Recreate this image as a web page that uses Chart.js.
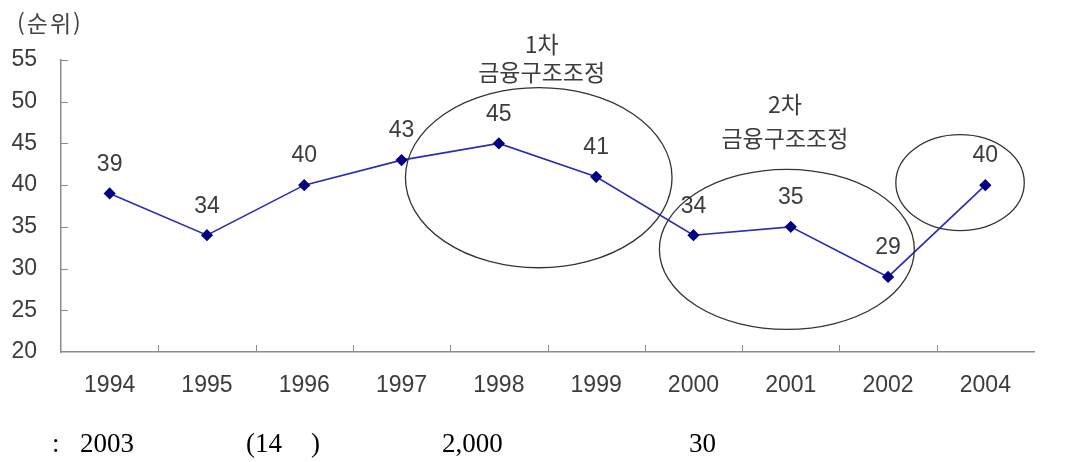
<!DOCTYPE html>
<html lang="ko">
<head>
  <meta charset="UTF-8">
  <title>순위 추이</title>
  <script src="https://cdn.jsdelivr.net/npm/chart.js"></script>
  <style>
    body {
      margin: 0;
      background: #fff;
      width: 1088px;
      height: 462px;
      position: relative;
      overflow: hidden;
    }
    #wrap {
      position: absolute;
      left: 0;
      top: 0;
      width: 1088px;
      height: 462px;
    }
    .unit {
      position: absolute;
      left: 17px;
      top: 5px;
      font-family: "Noto Sans CJK KR", sans-serif;
      font-size: 23px;
      letter-spacing: 2px;
      color: #444;
    }
    .note span {
      position: absolute;
      top: 428px;
      font-family: "Liberation Serif", "Times New Roman", serif;
      font-size: 27px;
      color: #000;
      white-space: nowrap;
    }
  </style>
</head>
<body>

<div id="wrap"><canvas id="rankChart" width="1088" height="462"></canvas></div>
<div class="unit">(순위)</div>
<div class="note">
  <span style="left:52px">:</span>
  <span style="left:80px">2003</span>
  <span style="left:246px">(14</span>
  <span style="left:311px">)</span>
  <span style="left:442px">2,000</span>
  <span style="left:689px">30</span>
</div>

<script>
const years = ["1994", "1995", "1996", "1997", "1998", "1999", "2000", "2001", "2002", "2004"];
const ranks = [39, 34, 40, 43, 45, 41, 34, 35, 29, 40];
const yTicks = [20, 25, 30, 35, 40, 45, 50, 55];

// circled periods: centre (category index, rank), radii (categories, rank units)
const circles = [
  { cx: 4.41, cy: 40.9, rx: 1.37, ry: 10.8 },
  { cx: 6.96, cy: 32.3, rx: 1.31, ry: 9.6 },
  { cx: 8.74, cy: 40.3, rx: 0.66, ry: 5.75 }
];
const notes = [
  { x: 4.44, y: 56.9, text: "1차" },
  { x: 4.44, y: 53.5, text: "금융구조조정" },
  { x: 6.94, y: 49.7, text: "2차" },
  { x: 6.94, y: 45.6, text: "금융구조조정" }
];

const axisColor = "#8c8c8c";
const textColor = "#3c3c3c";

const extras = {
  id: "extras",
  afterDatasetsDraw(chart) {
    const ctx = chart.ctx;
    const xs = chart.scales.x, ys = chart.scales.y;
    const area = chart.chartArea;
    ctx.save();

    // inner tick marks
    ctx.strokeStyle = axisColor;
    ctx.lineWidth = 1;
    ctx.beginPath();
    yTicks.forEach(v => {
      if (v === 20) return;
      const py = Math.round(ys.getPixelForValue(v)) + 0.5;
      ctx.moveTo(area.left, py);
      ctx.lineTo(area.left + 7, py);
    });
    for (let i = 0; i < years.length - 1; i++) {
      const px = Math.round(xs.getPixelForValue(i + 0.5)) + 0.5;
      ctx.moveTo(px, area.bottom);
      ctx.lineTo(px, area.bottom - 7);
    }
    ctx.stroke();

    // value labels
    const meta = chart.getDatasetMeta(0);
    ctx.fillStyle = textColor;
    ctx.font = "23px 'Liberation Sans', Arial, sans-serif";
    ctx.textAlign = "center";
    ctx.textBaseline = "middle";
    meta.data.forEach((pt, i) => {
      ctx.fillText(String(ranks[i]), pt.x, pt.y - 29);
    });

    // ellipses
    ctx.strokeStyle = "#333";
    ctx.lineWidth = 1.3;
    circles.forEach(c => {
      const px = xs.getPixelForValue(c.cx);
      const py = ys.getPixelForValue(c.cy);
      const rx = xs.getPixelForValue(c.cx + c.rx) - px;
      const ry = ys.getPixelForValue(c.cy - c.ry) - py;
      ctx.beginPath();
      ctx.ellipse(px, py, rx, ry, 0, 0, Math.PI * 2);
      ctx.stroke();
    });

    // period notes
    ctx.fillStyle = textColor;
    ctx.font = "23px 'Noto Sans CJK KR', sans-serif";
    notes.forEach(n => {
      ctx.fillText(n.text, xs.getPixelForValue(n.x), ys.getPixelForValue(n.y));
    });
    ctx.restore();
  }
};

new Chart(document.getElementById("rankChart"), {
  type: "line",
  data: {
    labels: years,
    datasets: [{
      data: ranks,
      borderColor: "#2b2bb8",
      borderWidth: 1.6,
      pointStyle: "rectRot",
      pointRadius: 5,
      pointBackgroundColor: "#000080",
      pointBorderColor: "#000080",
      tension: 0
    }]
  },
  options: {
    responsive: false,
    animation: false,
    layout: { padding: { top: 60, right: 54, bottom: 0, left: 0 } },
    plugins: {
      legend: { display: false },
      tooltip: { enabled: false }
    },
    scales: {
      x: {
        offset: true,
        grid: { display: false, drawTicks: false },
        border: { color: axisColor, width: 1.5 },
        ticks: {
          padding: 20,
          color: textColor,
          font: { family: "'Liberation Sans', Arial, sans-serif", size: 23 },
          maxRotation: 0
        },
        afterFit(scale) { scale.height = 110; }
      },
      y: {
        min: 20,
        max: 55,
        afterBuildTicks(scale) { scale.ticks = yTicks.map(v => ({ value: v })); },
        grid: { display: false, drawTicks: false },
        border: { color: axisColor, width: 1.5 },
        ticks: {
          padding: 24,
          color: textColor,
          font: { family: "'Liberation Sans', Arial, sans-serif", size: 23 }
        },
        afterFit(scale) { scale.width = 61; }
      }
    }
  },
  plugins: [extras]
});
</script>

</body>
</html>
